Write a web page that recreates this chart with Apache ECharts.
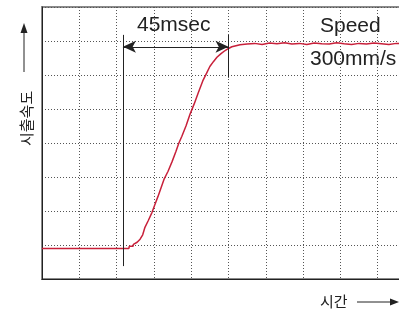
<!DOCTYPE html>
<html>
<head>
<meta charset="utf-8">
<script src="https://cdn.jsdelivr.net/npm/echarts@6/dist/echarts.min.js"></script>
<style>
  html, body { margin: 0; padding: 0; background: #fff; }
  #main { width: 399px; height: 312px; }
</style>
</head>
<body>
<div id="main"></div>
<script>
// 시간 (grid units) and 시출속도 (grid units)
var timeVals = [0, 2.33, 2.34, 2.44, 2.45, 2.55, 2.63, 2.70, 2.76, 2.85, 2.95, 3.03, 3.11, 3.19, 3.27, 3.38,
  3.49, 3.59, 3.67, 3.75, 3.86, 3.97, 4.08, 4.18, 4.32, 4.41, 4.50, 4.60, 4.69, 4.80, 4.91, 5.00,
  5.09, 5.20, 5.31, 5.5, 5.7, 5.9, 6.1, 6.3, 6.5, 6.7, 6.9, 7.1, 7.3, 7.5, 7.7, 7.9, 8.1, 8.3,
  8.5, 8.7, 8.9, 9.1, 9.3, 9.5, 9.7, 9.9, 10];
var speedVals = [0.90, 0.90, 0.96, 0.96, 1.02, 1.08, 1.17, 1.30, 1.52, 1.72, 1.96, 2.20, 2.43, 2.68, 2.93, 3.17,
  3.46, 3.75, 4.00, 4.20, 4.50, 4.85, 5.15, 5.45, 5.85, 6.05, 6.25, 6.40, 6.52, 6.63, 6.72, 6.78,
  6.83, 6.86, 6.89, 6.91, 6.93, 6.90, 6.94, 6.92, 6.95, 6.91, 6.93, 6.90, 6.94, 6.92, 6.91, 6.95, 6.92, 6.90,
  6.93, 6.91, 6.94, 6.92, 6.90, 6.93, 6.91, 6.94, 6.92];
// 45msec 구간 표시
var markStart = 2.17;
var markEnd = 5.0;
var arrowLevel = 6.83;
var leftMarkRange = [0.38, 7.18];
var rightMarkRange = [5.92, 7.18];

var traceData = [];
for (var i = 0; i < timeVals.length; i++) {
  traceData.push([timeVals[i], speedVals[i]]);
}

var myChart = echarts.init(document.getElementById("main"));
var gridLine = { show: true, lineStyle: { color: "#555", type: [1, 2], width: 1 } };
var noteFont = "21px 'Liberation Sans', Arial";

myChart.setOption({
  animation: false,
  grid: {
    left: 42,
    top: 7,
    width: 373,
    height: 272,
    outerBoundsMode: "none",
    show: true,
    borderColor: "#8a8a8a",
    borderWidth: 2
  },
  xAxis: {
    type: "value",
    min: 0,
    max: 10,
    interval: 1,
    axisLabel: { show: false },
    axisTick: { show: false },
    axisLine: { show: true, lineStyle: { color: "#222", width: 1 } },
    splitLine: gridLine
  },
  yAxis: {
    type: "value",
    min: 0,
    max: 8,
    interval: 1,
    axisLabel: { show: false },
    axisTick: { show: false },
    axisLine: { show: true, lineStyle: { color: "#222", width: 1 } },
    splitLine: gridLine
  },
  series: [
    {
      type: "line",
      data: traceData,
      showSymbol: false,
      lineStyle: { color: "#c8203a", width: 1.5 },
      markLine: {
        silent: true,
        animation: false,
        label: { show: false },
        data: [
          [
            { coord: [markStart, leftMarkRange[0]], symbol: "none" },
            { coord: [markStart, leftMarkRange[1]], symbol: "none" }
          ],
          [
            { coord: [markEnd, rightMarkRange[0]], symbol: "none" },
            { coord: [markEnd, rightMarkRange[1]], symbol: "none" }
          ],
          [
            { coord: [markStart, arrowLevel], symbol: "arrow" },
            { coord: [markEnd, arrowLevel], symbol: "arrow" }
          ]
        ],
        symbolSize: [9, 13],
        lineStyle: { color: "#222", width: 1, type: "solid" }
      }
    }
  ],
  graphic: [
    { type: "text", left: 137, top: 15, style: { text: "45msec", font: noteFont, fill: "#222" } },
    { type: "text", left: 320, top: 16, style: { text: "Speed", font: noteFont, fill: "#222" } },
    { type: "text", left: 310, top: 49, style: { text: "300mm/s", font: noteFont, fill: "#222" } },
    {
      type: "text", x: 19, y: 146, rotation: Math.PI / 2,
      style: { text: "시출속도", font: "15px 'Noto Sans CJK KR'", fill: "#222" }
    },
    { type: "line", shape: { x1: 24, y1: 72, x2: 24, y2: 30 }, style: { stroke: "#222", lineWidth: 1 } },
    { type: "polygon", shape: { points: [[24, 23], [20.5, 33], [27.5, 33]] }, style: { fill: "#222" } },
    { type: "text", left: 320, top: 294, style: { text: "시간", font: "15px 'Noto Sans CJK KR'", fill: "#222" } },
    { type: "line", shape: { x1: 357, y1: 302, x2: 392, y2: 302 }, style: { stroke: "#222", lineWidth: 1 } },
    { type: "polygon", shape: { points: [[399, 302], [390, 298.5], [390, 305.5]] }, style: { fill: "#222" } }
  ]
});
</script>
</body>
</html>
